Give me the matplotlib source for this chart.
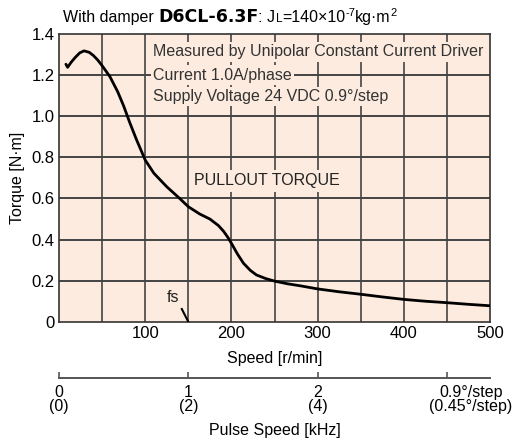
import matplotlib
matplotlib.use('Agg')
import matplotlib.pyplot as plt
import matplotlib.transforms as mtransforms

plt.rcParams['font.family'] = ['Liberation Sans Narrow', 'Liberation Sans', 'DejaVu Sans']

# speed [r/min] vs pullout torque [N·m]
speed = [8, 10, 14, 18.6, 24, 29, 35, 40, 45, 50, 59, 68, 75, 82, 90, 100,
         110, 125, 140, 150, 163, 175, 185, 191, 196, 200, 207, 214, 222,
         229, 240, 250, 265, 280, 300, 325, 350, 375, 400, 425, 450, 475, 500]
torque = [1.253, 1.238, 1.262, 1.285, 1.308, 1.318, 1.311, 1.295, 1.273,
          1.246, 1.193, 1.12, 1.05, 0.97, 0.885, 0.787, 0.723, 0.657, 0.60,
          0.56, 0.525, 0.50, 0.468, 0.44, 0.41, 0.382, 0.33, 0.285, 0.25,
          0.228, 0.21, 0.198, 0.185, 0.175, 0.16, 0.146, 0.134, 0.121, 0.109,
          0.10, 0.093, 0.085, 0.078]

y_ticks = [0, 0.2, 0.4, 0.6, 0.8, 1.0, 1.2, 1.4]
y_labels = ['0', '0.2', '0.4', '0.6', '0.8', '1.0', '1.2', '1.4']
x_ticks = [100, 200, 300, 400, 500]
x_grid = [50, 100, 150, 200, 250, 300, 350, 400, 450]
pulse_pos = [0, 150, 300, 450]
pulse_labels = ['0\n(0)', '1\n(2)', '2\n(4)', '0.9°/step\n(0.45°/step)']

notes = ['Measured by Unipolar Constant Current Driver',
         'Current 1.0A/phase',
         'Supply Voltage 24 VDC 0.9°/step']

BG = '#FCEBDE'
GRID = '#444444'
FS = 11.5

fig = plt.figure(figsize=(5.16, 4.41), dpi=100)
fig.patch.set_facecolor('white')

L, R = 59 / 516, 490 / 516
ax = fig.add_axes([L, 1 - 321.8 / 441, R - L, (321.8 - 34) / 441])
ax.set_facecolor(BG)
ax.set_xlim(0, 500)
ax.set_ylim(0, 1.4)

for xv in x_grid:
    ax.axvline(xv, color=GRID, lw=1.2, zorder=1)
for yv in y_ticks[1:-1]:
    ax.axhline(yv, color=GRID, lw=1.4, zorder=1)

ax.plot(speed, torque, color='black', lw=2.0, zorder=4, solid_capstyle='round')

ax.set_yticks(y_ticks)
ax.set_yticklabels(y_labels)
ax.set_xticks(x_ticks)
ax.tick_params(axis='both', length=0, labelsize=12, pad=3)
for s in ax.spines.values():
    s.set_color('#333333')
    s.set_linewidth(1.2)

ax.set_xlabel('Speed [r/min]', fontsize=FS, labelpad=7)
ax.set_ylabel('Torque [N·m]', fontsize=FS, labelpad=5)

# notes with background masking the grid
note_y = [1.313, 1.2, 1.096]
for t, yy in zip(notes, note_y):
    ax.text(109, yy, t, fontsize=FS, color='#333333', va='center',
            ha='left', zorder=3,
            bbox=dict(boxstyle='square,pad=0.15', facecolor=BG, edgecolor='none'))

ax.text(241, 0.685, 'PULLOUT TORQUE', fontsize=FS, color='#222222',
        va='center', ha='center', zorder=3,
        bbox=dict(boxstyle='square,pad=0.2', facecolor=BG, edgecolor='none'))

ax.text(132, 0.116, 'fs', fontsize=FS, color='#222222', ha='center', va='center', zorder=3)
ax.plot([142.5, 150], [0.062, 0.0], color='black', lw=1.5, zorder=3)

# pulse speed axis
ax2 = fig.add_axes([L, 1 - 378 / 441, R - L, 0.0001])
ax2.set_xlim(0, 500)
ax2.set_facecolor('none')
for k in ['left', 'right', 'top']:
    ax2.spines[k].set_visible(False)
ax2.spines['bottom'].set_color('#555555')
ax2.spines['bottom'].set_linewidth(1.4)
ax2.set_yticks([])
ax2.set_xticks(pulse_pos)
ax2.set_xticklabels(pulse_labels, fontsize=FS, linespacing=0.95)
ax2.tick_params(axis='x', direction='in', length=4, width=1.2, color='#555555', pad=5)
lab = ax2.get_xticklabels()[-1]
lab.set_transform(lab.get_transform() + mtransforms.ScaledTranslation(24 / 100, 0, fig.dpi_scale_trans))
fig.text((L + R) / 2, 1 - 431 / 441, 'Pulse Speed [kHz]', fontsize=FS, ha='center', va='center')

# title built from pieces
fig.canvas.draw()
renderer = fig.canvas.get_renderer()
x0 = 63 / 516
yb = 1 - 22 / 441
pieces = [
    ('With damper ', dict(fontsize=FS), 0),
    ('D6CL-6.3F', dict(fontsize=12.5, family='DejaVu Sans', fontweight='heavy'), 0),
    (': J', dict(fontsize=FS), 0),
    ('L', dict(fontsize=8.5), 0),
    ('=140×10', dict(fontsize=FS), 0),
    ('-7', dict(fontsize=8), 6),
    ('kg·m', dict(fontsize=FS), 0),
    ('2', dict(fontsize=8), 6),
]
x = x0
for txt, kw, dy in pieces:
    t = fig.text(x, yb + dy / 441, txt, va='baseline', ha='left', **kw)
    bb = t.get_window_extent(renderer)
    x += bb.width / 516

fig.savefig('out.png', dpi=100, facecolor='white')
